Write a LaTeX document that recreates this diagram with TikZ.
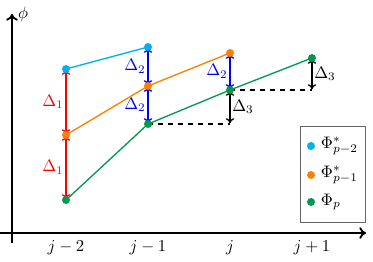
\documentclass[tikz,border=0pt]{standalone}
\usetikzlibrary{arrows.meta}
\definecolor{ccyan}{RGB}{0,176,240}
\definecolor{corange}{RGB}{255,128,0}
\definecolor{cgreen}{RGB}{0,153,80}
\definecolor{cred}{RGB}{255,0,0}
\definecolor{cblue}{RGB}{0,0,255}
\begin{document}
\begin{tikzpicture}[x=0.6pt,y=-0.6pt,
  dot/.style={circle,fill,inner sep=0pt,minimum size=4.8pt},
  seg/.style={line width=0.8pt},
  dbl/.style={line width=0.8pt,{To[length=3pt,width=5pt]}-{To[length=3pt,width=5pt]},shorten <=0.5pt,shorten >=0.5pt},
  dlab/.style={inner sep=1pt},
  axis/.style={line width=1.1pt,-{To[length=4pt,width=7pt]}},
  tick/.style={inner sep=0pt}]
\useasboundingbox (0,0) rectangle (373,261);
% axes
\coordinate (xa) at (0,233);
\coordinate (xb) at (366,233);
\coordinate (ya) at (12,243);
\coordinate (yb) at (12,14);
\draw[axis] (xa) -- (xb);
\draw[axis] (ya) -- (yb);
\node[anchor=west,inner sep=1pt] (phi) at (16,14) {$\phi$};
% tick labels
\node[tick] (t1) at (66,248) {$j-2$};
\node[tick] (t2) at (148,248) {$j-1$};
\node[tick] (t3) at (230,248) {$j$};
\node[tick] (t4) at (312,248) {$j+1$};
% points
\coordinate (c1) at (66,69);
\coordinate (c2) at (148,47);
\coordinate (o1) at (66,135);
\coordinate (o2) at (148,86);
\coordinate (o3) at (230,53);
\coordinate (g1) at (66,200);
\coordinate (g2) at (148,124);
\coordinate (g3) at (230,90);
\coordinate (g4) at (312,58);
\coordinate (d1) at (230,124);
\coordinate (d2) at (312,90);
% dashed
\draw[dashed,line width=0.8pt] (g2) -- (d1);
\draw[dashed,line width=0.8pt] (g3) -- (d2);
% polylines
\draw[seg,ccyan] (c1) -- (c2);
\draw[seg,corange] (o1) -- (o2) -- (o3);
\draw[seg,cgreen] (g1) -- (g2) -- (g3) -- (g4);
% delta arrows
\draw[dbl,cred] (c1) -- node[dlab,left,cred] {$\Delta_1$} (o1);
\draw[dbl,cred] (o1) -- node[dlab,left,cred] {$\Delta_1$} (g1);
\draw[dbl,cblue] (c2) -- node[dlab,left,cblue] {$\Delta_2$} (o2);
\draw[dbl,cblue] (o2) -- node[dlab,left,cblue] {$\Delta_2$} (g2);
\draw[dbl,cblue] (o3) -- node[dlab,left,cblue] {$\Delta_2$} (g3);
\draw[dbl,black] (g3) -- node[dlab,right] {$\Delta_3$} (d1);
\draw[dbl,black] (g4) -- node[dlab,right] {$\Delta_3$} (d2);
% dots
\node[dot,ccyan] (nc1) at (c1) {};
\node[dot,ccyan] (nc2) at (c2) {};
\node[dot,corange] (no1) at (o1) {};
\node[dot,corange] (no2) at (o2) {};
\node[dot,corange] (no3) at (o3) {};
\node[dot,cgreen] (ng1) at (g1) {};
\node[dot,cgreen] (ng2) at (g2) {};
\node[dot,cgreen] (ng3) at (g3) {};
\node[dot,cgreen] (ng4) at (g4) {};
% legend
\draw[draw=black!60,line width=0.6pt,fill=white] (301,126) rectangle (366,222);
\node[dot,ccyan] (l1) at (311,146) {};
\node[dot,corange] (l2) at (311,175) {};
\node[dot,cgreen] (l3) at (311,202) {};
\node[anchor=west,inner sep=1pt] (lt1) at (319,146) {$\Phi^*_{p-2}$};
\node[anchor=west,inner sep=1pt] (lt2) at (319,175) {$\Phi^*_{p-1}$};
\node[anchor=west,inner sep=1pt] (lt3) at (319,202) {$\Phi_{p}$};
\end{tikzpicture}
\end{document}
